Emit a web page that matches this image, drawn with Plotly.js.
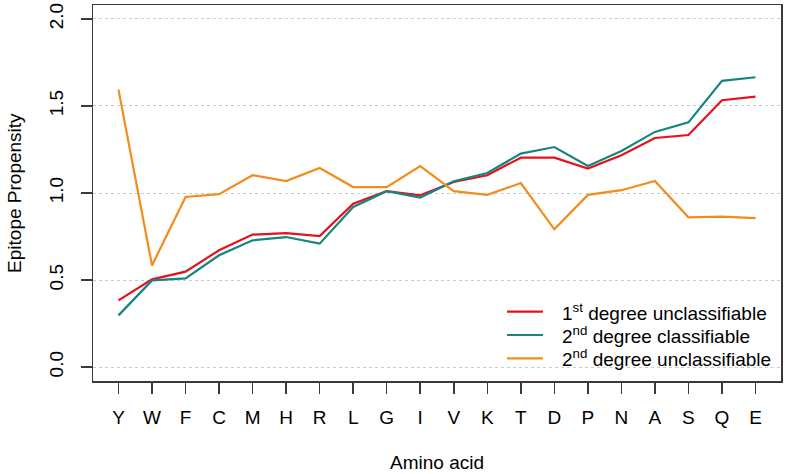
<!DOCTYPE html>
<html>
<head>
<meta charset="utf-8">
<script src="https://cdn.plot.ly/plotly-3.0.1.min.js"></script>
<style>
html, body { margin: 0; padding: 0; background: #fff; }
#chart { width: 786px; height: 474px; }
</style>
</head>
<body>
<div id="chart"></div>
<script>
const aminoAcids = ["Y","W","F","C","M","H","R","L","G","I","V","K","T","D","P","N","A","S","Q","E"];
const firstDegreeUnclassifiable = [0.383,0.504,0.548,0.671,0.761,0.770,0.753,0.939,1.011,0.987,1.063,1.102,1.203,1.203,1.140,1.217,1.316,1.333,1.533,1.554];
const secondDegreeClassifiable = [0.297,0.498,0.510,0.642,0.728,0.747,0.709,0.920,1.010,0.974,1.067,1.115,1.226,1.264,1.155,1.241,1.351,1.406,1.644,1.665];
const secondDegreeUnclassifiable = [1.594,0.584,0.977,0.993,1.102,1.069,1.144,1.034,1.034,1.155,1.011,0.989,1.057,0.791,0.989,1.016,1.069,0.860,0.864,0.856];
const seriesNames = ["1<sup>st</sup> degree unclassifiable","2<sup>nd</sup> degree classifiable","2<sup>nd</sup> degree unclassifiable"];
const seriesColors = ["#E5121C","#168580","#F28C1C"];
const yTickVals = [0, 0.5, 1, 1.5, 2];
const yTickText = ["0.0","0.5","1.0","1.5","2.0"];

const xIdx = aminoAcids.map((_, i) => i);
const allSeries = [firstDegreeUnclassifiable, secondDegreeClassifiable, secondDegreeUnclassifiable];
const traces = allSeries.map((vals, k) => ({
  x: xIdx, y: vals, type: "scatter", mode: "lines",
  name: seriesNames[k],
  line: { color: seriesColors[k], width: 2.2 }
}));

const font = { family: "Liberation Sans, Arial, sans-serif", size: 19, color: "#000" };

// legend drawn inside plot (bottom right), like R's legend()
const legendRowsY = [0.1843, 0.1223, 0.0604];
const legendShapes = seriesNames.map((n, k) => ({
  type: "line", xref: "paper", yref: "paper",
  x0: 0.6017, x1: 0.654, y0: legendRowsY[k], y1: legendRowsY[k],
  line: { color: seriesColors[k], width: 2.2 }
}));
const legendTexts = seriesNames.map((n, k) => ({
  text: n, xref: "paper", yref: "paper", x: 0.6788, y: legendRowsY[k],
  xanchor: "left", yanchor: "middle", showarrow: false, font: font
}));

const layout = {
  width: 786, height: 474,
  margin: { l: 93, r: 5, t: 5, b: 93, pad: 0 },
  paper_bgcolor: "#fff", plot_bgcolor: "#fff",
  font: font,
  showlegend: false,
  xaxis: {
    range: [-0.76, 19.76], tickmode: "array", tickvals: xIdx, ticktext: aminoAcids,
    showgrid: false, zeroline: false, showline: true, mirror: true,
    linecolor: "#3a3a3a", linewidth: 1.5,
    ticks: "outside", ticklen: 11, tickwidth: 1.5, tickcolor: "#3a3a3a",
    ticklabelstandoff: 8,
    tickfont: font, fixedrange: true
  },
  yaxis: {
    range: [-0.08, 2.08], tickmode: "array", tickvals: yTickVals, ticktext: yTickText,
    tickangle: -90,
    showgrid: true, gridcolor: "#cccccc", griddash: "dot", gridwidth: 1,
    zeroline: false, showline: true, mirror: true,
    linecolor: "#3a3a3a", linewidth: 1.5,
    ticks: "outside", ticklen: 11, tickwidth: 1.5, tickcolor: "#3a3a3a",
    ticklabelstandoff: 10,
    tickfont: font, fixedrange: true
  },
  shapes: legendShapes,
  annotations: [
    { text: "Amino acid", xref: "paper", yref: "paper", x: 0.5, y: -0.218,
      xanchor: "center", yanchor: "middle", showarrow: false, font: font },
    { text: "Epitope Propensity", xref: "paper", yref: "paper", x: -0.115, y: 0.5,
      xanchor: "center", yanchor: "middle", textangle: -90, showarrow: false, font: font }
  ].concat(legendTexts)
};

Plotly.newPlot("chart", traces, layout, { staticPlot: true, displayModeBar: false });
</script>
</body>
</html>
